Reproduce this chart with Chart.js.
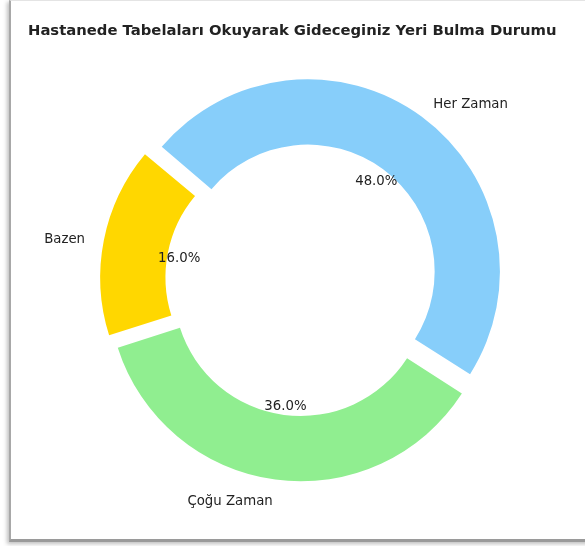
<!DOCTYPE html>
<html>
<head>
<meta charset="utf-8">
<script src="https://cdn.jsdelivr.net/npm/chart.js@4/dist/chart.umd.min.js"></script>
<style>
  html, body { margin: 0; padding: 0; background: #fff; }
  #frame {
    position: absolute; left: 9px; top: 0; width: 600px; height: 538px;
    border-left: 2px solid #a8a8a8; border-bottom: 3px solid #9a9a9a; border-top: 1px solid #e4e4e4;
    box-shadow: -2px 2px 4px rgba(0,0,0,0.25);
  }
  #wrap { position: absolute; left: 0; top: 0; width: 585px; height: 546px; }
</style>
</head>
<body>
<div id="frame"></div>
<div id="wrap"><canvas id="pieChart" width="585" height="546"></canvas></div>
<script>
// data
const labels = ['Her Zaman', 'Çoğu Zaman', 'Bazen'];
const values = [48, 36, 16];
const colors = ['#87CEFA', '#90EE90', '#FFD700'];

const OFFSET = 40; // chart.js moves each arc by offset/4 -> 10px "explode"

// chart.js also grows small arcs by the offset, undo that so it's a pure shift
const pureExplode = {
  id: 'pureExplode',
  afterDatasetUpdate(chart, args) {
    args.meta.data.forEach(arc => {
      const circ = arc.endAngle - arc.startAngle;
      const grow = (OFFSET / 4) * (1 - Math.sin(Math.min(Math.PI, circ)));
      arc.outerRadius -= grow;
      arc.innerRadius -= grow;
    });
  }
};

// labels outside + percentages inside, matplotlib style
const sliceLabels = {
  id: 'sliceLabels',
  afterDatasetsDraw(chart) {
    const ctx = chart.ctx;
    const meta = chart.getDatasetMeta(0);
    const R = meta.controller.outerRadius;
    const total = values.reduce((a, b) => a + b, 0);
    ctx.save();
    ctx.font = '13.3px "DejaVu Sans"';
    ctx.fillStyle = '#222';
    ctx.textBaseline = 'middle';
    meta.data.forEach((arc, i) => {
      const p = arc.getProps(['x', 'y', 'startAngle', 'endAngle']);
      const mid = (p.startAngle + p.endAngle) / 2;
      const shift = OFFSET / 4;
      const cx = Math.cos(mid), cy = Math.sin(mid);
      const dy = 3;
      // percentage
      ctx.textAlign = 'center';
      const pr = shift + R * 0.6;
      ctx.fillText((values[i] / total * 100).toFixed(1) + '%', p.x + cx * pr, p.y + cy * pr + dy);
      // category label
      const lr = shift + R * 1.1;
      ctx.textAlign = cx > 0 ? 'left' : 'right';
      ctx.fillText(labels[i], p.x + cx * lr, p.y + cy * lr + dy);
    });
    ctx.restore();
  }
};

const ctx = document.getElementById('pieChart').getContext('2d');
const pieChart = new Chart(ctx, {
  type: 'doughnut',
  data: {
    labels: labels,
    datasets: [{
      data: values,
      backgroundColor: colors,
      borderWidth: 0,
      offset: OFFSET,
      hoverOffset: 0
    }]
  },
  options: {
    responsive: false,
    animation: false,
    events: [],
    rotation: -50,
    cutout: '66%',
    radius: 192,
    layout: { padding: { left: 28, right: 9, top: 0, bottom: 27 } },
    plugins: {
      legend: { display: false },
      tooltip: { enabled: false },
      title: {
        display: true,
        align: 'start',
        text: 'Hastanede Tabelaları Okuyarak Gideceginiz Yeri Bulma Durumu',
        color: '#222',
        font: { family: 'DejaVu Sans', size: 14.8, weight: 'bold' },
        padding: { top: 22, bottom: 0 }
      }
    }
  },
  plugins: [pureExplode, sliceLabels]
});
</script>
</body>
</html>
